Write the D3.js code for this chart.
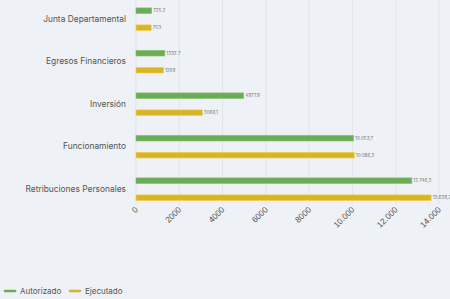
<!DOCTYPE html>
<html>
<head>
<meta charset="utf-8">
<script src="https://cdn.jsdelivr.net/npm/d3@7"></script>
<style>
  body { margin: 0; background: #eef1f5; }
  svg { display: block; font-family: Inter, "Noto Sans", sans-serif; }
</style>
</head>
<body>
<div id="chart"></div>
<script>
// categorias y series
const categories = ["Junta Departamental", "Egresos Financieros", "Inversión", "Funcionamiento", "Retribuciones Personales"];
const seriesNames = ["Autorizado", "Ejecutado"];
const autorizado = [725.2, 1332.7, 4977.9, 10053.7, 12746.3];
const ejecutado = [703, 1269, 3066.1, 10086.3, 13639.2];
const autorizadoLabels = ["725.2", "1332.7", "4977.9", "10.053,7", "12.746,3"];
const ejecutadoLabels = ["703", "1269", "3066,1", "10.086,3", "13.639,2"];
const tickValues = [0, 2000, 4000, 6000, 8000, 10000, 12000, 14000];
const tickLabels = ["0", "2000", "4000", "6000", "8000", "10.000", "12.000", "14.000"];
const colors = ["#6dab58", "#d8b42a"];

const width = 450, height = 299;
const svg = d3.select("#chart").append("svg")
    .attr("width", width)
    .attr("height", height);

const x = d3.scaleLinear().domain([0, 14000]).range([136, 439]);
const y = d3.scaleBand().domain(categories).range([-0.8, 211.7]);
const inner = d3.scaleBand().domain(seriesNames).range([3, 37]);
const barH = 5.6;

// lineas de grilla
svg.append("g")
    .selectAll("line")
    .data(tickValues)
    .enter().append("line")
    .attr("x1", d => x(d)).attr("x2", d => x(d))
    .attr("y1", 0).attr("y2", 205)
    .attr("stroke", "#e1e5ea")
    .attr("stroke-width", 1);

// barras
const rows = categories.map((c, i) => ({
    cat: c,
    vals: [
        { s: seriesNames[0], v: autorizado[i], l: autorizadoLabels[i] },
        { s: seriesNames[1], v: ejecutado[i], l: ejecutadoLabels[i] }
    ]
}));

const group = svg.append("g")
    .selectAll("g")
    .data(rows)
    .enter().append("g")
    .attr("transform", d => `translate(0,${y(d.cat)})`);

group.selectAll("rect")
    .data(d => d.vals)
    .enter().append("rect")
    .attr("x", x(0))
    .attr("y", d => inner(d.s) + (inner.bandwidth() - barH) / 2)
    .attr("width", d => x(d.v) - x(0))
    .attr("height", barH)
    .attr("fill", (d, i) => colors[i])
    .attr("stroke", (d, i) => d3.color(colors[i]).brighter(0.4))
    .attr("stroke-width", 0.6);

group.selectAll("text")
    .data(d => d.vals)
    .enter().append("text")
    .attr("x", d => x(d.v) + 1.5)
    .attr("y", d => inner(d.s) + inner.bandwidth() / 2)
    .attr("dy", "0.35em")
    .attr("font-size", 4.6)
    .attr("fill", "#777")
    .text(d => d.l);

// etiquetas del eje y
svg.append("g")
    .selectAll("text")
    .data(categories)
    .enter().append("text")
    .attr("x", 126)
    .attr("y", d => y(d) + y.bandwidth() / 2 - 1.5)
    .attr("dy", "0.35em")
    .attr("text-anchor", "end")
    .attr("font-size", 8.4)
    .attr("fill", "#555")
    .text(d => d);

// eje x
const xAxis = d3.axisBottom(x)
    .tickValues(tickValues)
    .tickFormat((d, i) => tickLabels[i])
    .tickSize(0);

const gx = svg.append("g")
    .attr("transform", "translate(0,208)")
    .call(xAxis);
gx.select(".domain").remove();
gx.selectAll("text")
    .attr("font-size", 8.4)
    .attr("fill", "#555")
    .attr("text-anchor", "end")
    .attr("y", 0)
    .attr("dy", "0.35em")
    .attr("transform", "translate(0,0) rotate(-45)");

// leyenda
const legend = svg.append("g")
    .selectAll("g")
    .data(seriesNames)
    .enter().append("g")
    .attr("transform", (d, i) => `translate(${5 + i * 65},291)`);

legend.append("line")
    .attr("x1", 0).attr("x2", 10)
    .attr("stroke", (d, i) => colors[i])
    .attr("stroke-width", 2.6)
    .attr("stroke-linecap", "round");

legend.append("text")
    .attr("x", 15)
    .attr("dy", "0.35em")
    .attr("font-size", 8)
    .attr("fill", "#555")
    .text(d => d);
</script>
</body>
</html>
